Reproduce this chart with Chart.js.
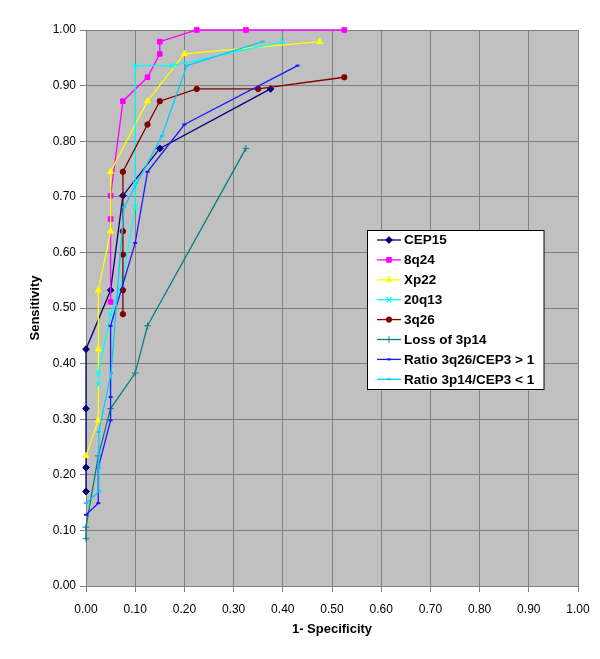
<!DOCTYPE html>
<html>
<head>
<meta charset="utf-8">
<script src="https://cdn.jsdelivr.net/npm/chart.js@4/dist/chart.umd.min.js"></script>
<style>
  body { margin: 0; background: #fff; }
  canvas { display: block; }
</style>
</head>
<body>
<canvas id="roc" width="600" height="659"></canvas>
<script>
// ROC points (x = 1 - specificity, y = sensitivity)
const seriesNames = ['CEP15', '8q24', 'Xp22', '20q13', '3q26', 'Loss of 3p14', 'Ratio 3q26/CEP3 > 1', 'Ratio 3p14/CEP3 < 1']

const cep15X = [0, 0, 0, 0, 0.05, 0.075, 0.15, 0.375]
const cep15Y = [0.170, 0.213, 0.319, 0.426, 0.532, 0.702, 0.787, 0.894]

const q824X = [0.05, 0.05, 0.05, 0.075, 0.125, 0.15, 0.15, 0.225, 0.325, 0.525]
const q824Y = [0.511, 0.660, 0.702, 0.872, 0.915, 0.957, 0.979, 1, 1, 1]

const xp22X = [0, 0.025, 0.025, 0.025, 0.05, 0.05, 0.125, 0.2, 0.475]
const xp22Y = [0.234, 0.298, 0.426, 0.532, 0.638, 0.745, 0.872, 0.957, 0.979]

const q2013X = [0.025, 0.025, 0.05, 0.075, 0.1, 0.1, 0.1, 0.175, 0.4]
const q2013Y = [0.362, 0.383, 0.489, 0.553, 0.681, 0.723, 0.936, 0.936, 0.979]

const q326X = [0.075, 0.075, 0.075, 0.075, 0.075, 0.125, 0.15, 0.225, 0.35, 0.525]
const q326Y = [0.489, 0.532, 0.596, 0.638, 0.745, 0.830, 0.872, 0.894, 0.894, 0.915]

const loss3p14X = [0, 0, 0.025, 0.05, 0.1, 0.125, 0.325]
const loss3p14Y = [0.085, 0.106, 0.234, 0.319, 0.383, 0.468, 0.787]

const ratio3q26X = [0, 0.025, 0.025, 0.05, 0.05, 0.05, 0.1, 0.125, 0.2, 0.43]
const ratio3q26Y = [0.128, 0.149, 0.213, 0.298, 0.340, 0.468, 0.617, 0.745, 0.830, 0.936]

const ratio3p14X = [0, 0.026, 0.026, 0.026, 0.051, 0.077, 0.154, 0.205, 0.359]
const ratio3p14Y = [0.149, 0.170, 0.213, 0.277, 0.383, 0.681, 0.809, 0.936, 0.979]

const axisTicks = [0, 0.1, 0.2, 0.3, 0.4, 0.5, 0.6, 0.7, 0.8, 0.9, 1]

function zip(xs, ys) {
    return xs.map(function(x, i){ return {x: x, y: ys[i]} })
}

const styles = [
    {color: '#000080', pointStyle: 'rectRot', radius: 3.4, pw: 1},
    {color: '#ff00ff', pointStyle: 'rect', radius: 3.3, pw: 1},
    {color: '#ffff00', pointStyle: 'triangle', radius: 3.5, pw: 1},
    {color: '#00ffff', pointStyle: 'crossRot', radius: 3.4, pw: 1.2},
    {color: '#800000', pointStyle: 'circle', radius: 2.7, pw: 1},
    {color: '#008080', pointStyle: 'cross', radius: 3.4, pw: 1},
    {color: '#1a1aff', pointStyle: 'line', radius: 2, pw: 2},
    {color: '#00ccff', pointStyle: 'line', radius: 2, pw: 2}
]

const allPoints = [
    zip(cep15X, cep15Y), zip(q824X, q824Y), zip(xp22X, xp22Y), zip(q2013X, q2013Y),
    zip(q326X, q326Y), zip(loss3p14X, loss3p14Y), zip(ratio3q26X, ratio3q26Y), zip(ratio3p14X, ratio3p14Y)
]

const datasets = allPoints.map(function(pts, i){
    const s = styles[i]
    return {
        label: seriesNames[i],
        data: pts,
        showLine: true,
        borderColor: s.color,
        backgroundColor: s.color,
        borderWidth: 1.3,
        pointStyle: s.pointStyle,
        pointRadius: s.radius,
        pointBorderWidth: s.pw,
        pointBackgroundColor: s.color,
        pointBorderColor: s.color,
        clip: false,
        order: -i
    }
})

const FONT = "Arial, 'Liberation Sans', sans-serif"

// grey plot area like Excel
const plotBackground = {
    id: 'plotBackground',
    beforeDraw(chart) {
        const ctx = chart.ctx
        const a = chart.chartArea
        ctx.save()
        ctx.fillStyle = '#ffffff'
        ctx.fillRect(0, 0, chart.width, chart.height)
        ctx.fillStyle = '#c0c0c0'
        ctx.fillRect(a.left, a.top, a.right - a.left, a.bottom - a.top)
        ctx.restore()
    }
}

// legend box inside the plot
const boxLegend = {
    id: 'boxLegend',
    afterDraw(chart) {
        const ctx = chart.ctx
        const left = 367.5, top = 230.5, w = 176.5, h = 159
        ctx.save()
        ctx.fillStyle = '#ffffff'
        ctx.fillRect(left, top, w, h)
        ctx.strokeStyle = '#000000'
        ctx.lineWidth = 1
        ctx.strokeRect(left, top, w, h)
        ctx.font = 'bold 13.5px ' + FONT
        ctx.textBaseline = 'middle'
        seriesNames.forEach(function(name, i){
            const s = styles[i]
            const y = 240 + i * 19.9
            ctx.strokeStyle = s.color
            ctx.lineWidth = 1.3
            ctx.beginPath()
            ctx.moveTo(377, y)
            ctx.lineTo(401, y)
            ctx.stroke()
            ctx.fillStyle = s.color
            ctx.lineWidth = s.pw
            Chart.helpers.drawPoint(ctx, {pointStyle: s.pointStyle, radius: s.radius, borderWidth: s.pw, rotation: 0}, 389, y)
            ctx.fillStyle = '#000000'
            ctx.fillText(name, 404, y + 0.5)
        })
        ctx.restore()
    }
}

new Chart(document.getElementById('roc'), {
    type: 'scatter',
    data: { datasets: datasets },
    options: {
        responsive: false,
        animation: false,
        devicePixelRatio: 1,
        layout: { padding: { left: 0, top: 30, right: 22, bottom: 0 } },
        plugins: {
            legend: { display: false },
            tooltip: { enabled: false }
        },
        scales: {
            x: {
                type: 'linear',
                min: 0,
                max: 1,
                afterFit: function(scale){ scale.height = 73 },
                afterBuildTicks: function(scale){ scale.ticks = axisTicks.map(function(v){ return {value: v} }) },
                ticks: {
                    color: '#000',
                    padding: 10,
                    maxRotation: 0,
                    font: { family: FONT, size: 12 },
                    callback: function(v){ return Number(v).toFixed(2) }
                },
                grid: { color: '#808080', lineWidth: 1, tickLength: 6, tickColor: '#808080' },
                border: { color: '#808080', width: 1 },
                title: {
                    display: true,
                    text: '1- Specificity',
                    color: '#000',
                    font: { family: FONT, size: 13, weight: 'bold' },
                    padding: { top: 0, bottom: 22 }
                }
            },
            y: {
                type: 'linear',
                min: 0,
                max: 1,
                afterFit: function(scale){ scale.width = 86 },
                afterBuildTicks: function(scale){ scale.ticks = axisTicks.map(function(v){ return {value: v} }) },
                ticks: {
                    color: '#000',
                    padding: 4,
                    font: { family: FONT, size: 12 },
                    callback: function(v){ return Number(v).toFixed(2) }
                },
                grid: { color: '#808080', lineWidth: 1, tickLength: 6, tickColor: '#808080' },
                border: { color: '#808080', width: 1 },
                title: {
                    display: true,
                    text: 'Sensitivity',
                    color: '#000',
                    font: { family: FONT, size: 13, weight: 'bold' },
                    padding: { top: 28, bottom: 0 }
                }
            }
        }
    },
    plugins: [plotBackground, boxLegend]
})
</script>
</body>
</html>
